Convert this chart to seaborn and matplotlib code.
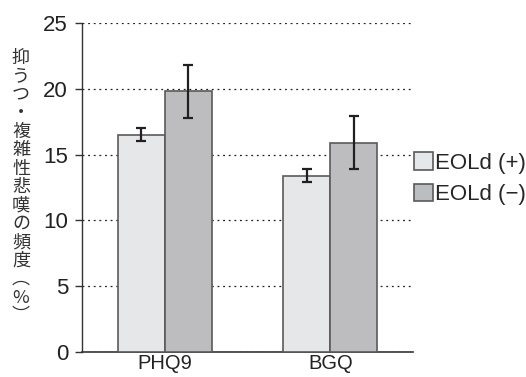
import matplotlib
matplotlib.use("Agg")
import matplotlib.pyplot as plt
import seaborn as sns
import pandas as pd
from matplotlib.patches import Patch

# データ
categories = ["PHQ9", "BGQ"]
groups = ["EOLd (+)", "EOLd (\u2212)"]
plus_values = [16.5, 13.4]
minus_values = [19.8, 15.9]
plus_err = [0.5, 0.5]
minus_err = [2.0, 2.0]
yticks = [0, 5, 10, 15, 20, 25]
ylabel = "抑うつ・複雑性悲嘆の頻度︵%︶"

colors = ["#e6e7e9", "#bcbdc0"]
edge = "#5a5a5a"

df = pd.DataFrame({
    "cat": categories * 2,
    "group": [groups[0]] * 2 + [groups[1]] * 2,
    "value": plus_values + minus_values,
    "err": plus_err + minus_err,
})

sns.set_style("white")
plt.rcParams["font.family"] = ["Liberation Sans", "Noto Sans CJK JP", "DejaVu Sans"]

fig = plt.figure(figsize=(5.26, 3.77), dpi=100)
ax = fig.add_axes([82 / 526, 1 - 352 / 377, (413 - 82) / 526, (352 - 23) / 377])

sns.barplot(data=df, x="cat", y="value", hue="group", palette=colors,
            width=0.57, gap=0, edgecolor=edge, linewidth=1.2,
            errorbar=None, legend=False, ax=ax, zorder=3)

# 誤差棒
bars = [p for p in ax.patches if p.get_height() > 0]
for p, e in zip(bars, df["err"]):
    ax.errorbar(p.get_x() + p.get_width() / 2, p.get_height(), yerr=e,
                fmt="none", ecolor="#231f20", elinewidth=1.6, capsize=3.5,
                capthick=1.6, zorder=4)

ax.set_ylim(0, 25)
ax.set_xlim(-0.5, 1.5)
ax.set_yticks(yticks)
ax.yaxis.grid(True, linestyle=(0, (1.5, 3)), color="#222222", linewidth=0.9)
ax.set_axisbelow(True)
for s in ["top", "right"]:
    ax.spines[s].set_visible(False)
ax.spines["left"].set_color("#333333")
ax.spines["bottom"].set_color("#333333")
ax.spines["left"].set_linewidth(1.0)
ax.spines["bottom"].set_linewidth(1.2)
ax.tick_params(axis="y", length=5, width=1.0, color="#333333", labelsize=16, labelcolor="#222222", pad=5, left=True)
ax.tick_params(axis="x", length=0, labelsize=14.5, labelcolor="#222222", pad=1.5)
ax.set_xlabel("")
ax.set_ylabel("")

fig.text(21 / 526, 190 / 377, "\n".join(ylabel), ha="center", va="center",
         fontsize=13, linespacing=1.03, color="#333333",
         family=["Noto Sans CJK JP", "DejaVu Sans"])

handles = [Patch(facecolor=c, edgecolor=edge, linewidth=1.2) for c in colors]
fig.legend(handles, groups, loc="upper left", bbox_to_anchor=(414 / 526, 1 - 152 / 377),
           frameon=False, fontsize=16, handlelength=0.85, handleheight=0.85,
           handletextpad=0.1, labelspacing=0.45, borderpad=0, borderaxespad=0)

fig.savefig("out.png", dpi=100)
